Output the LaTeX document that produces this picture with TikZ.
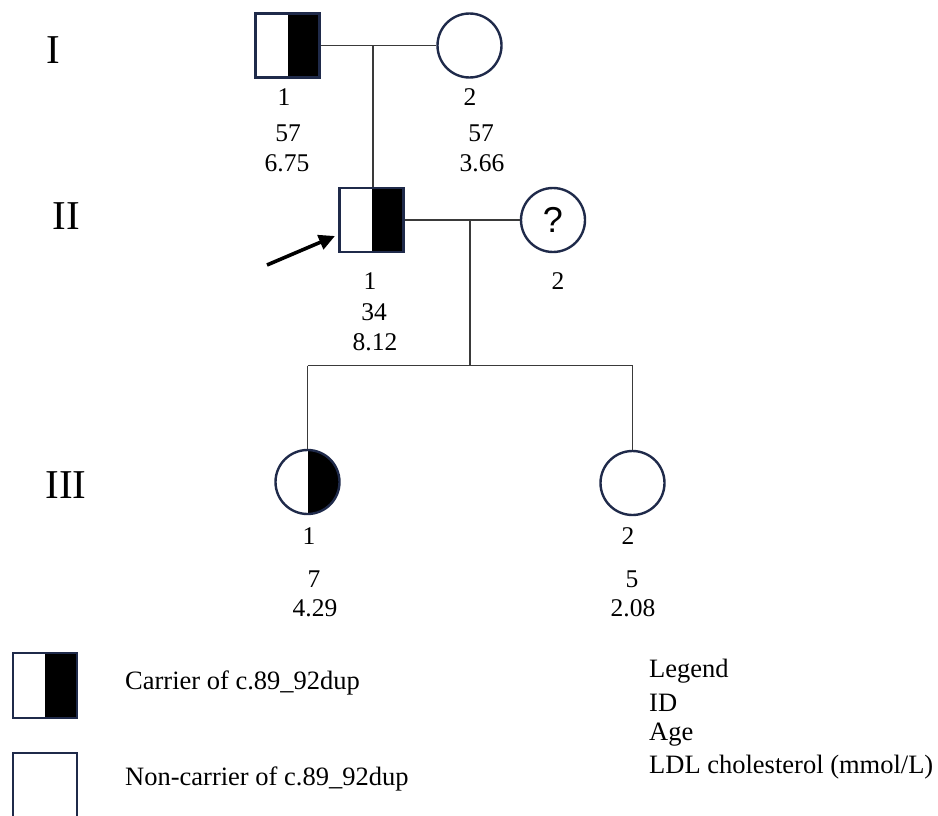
\documentclass[tikz,border=0pt]{standalone}
\usepackage{fontspec}
\setmainfont{Liberation Serif}
\newfontfamily\qfont{Liberation Sans}
\usetikzlibrary{arrows.meta}
\definecolor{pedline}{HTML}{1F2A4A}
\definecolor{linkgray}{HTML}{3A3A3A}
\begin{document}
\begin{tikzpicture}[x=1pt,y=-1pt,
  person/.style={draw=pedline,line width=2.4pt,fill=white,inner sep=0pt},
  male/.style={person,rectangle,minimum width=64pt,minimum height=64pt},
  female/.style={person,circle,minimum size=64pt},
  carrier/.style={path picture={\fill[black] (path picture bounding box.north) rectangle (path picture bounding box.south east);}},
  link/.style={draw=linkgray,line width=1.3pt},
  lab/.style={font=\fontsize{25.5}{30}\selectfont,inner sep=0pt},
  gen/.style={font=\fontsize{41}{46}\selectfont,inner sep=0pt},
  legtext/.style={font=\fontsize{26.5}{31}\selectfont,inner sep=0pt,anchor=west}]
\useasboundingbox (0,0) rectangle (938,816);

% generation numerals
\node[gen] (g1) at (53,50) {I};
\node[gen] (g2) at (66,216) {II};
\node[gen] (g3) at (66,485) {III};

% generation I
\node[male,carrier] (I1) at (287.5,45.5) {};
\node[female] (I2) at (469.5,45.5) {};
\node[lab] (I1id) at (284,97) {1};
\node[lab] (I1age) at (288,133) {57};
\node[lab] (I1ldl) at (287,163) {6.75};
\node[lab] (I2id) at (470,97) {2};
\node[lab] (I2age) at (481,133) {57};
\node[lab] (I2ldl) at (482,163) {3.66};

% generation II
\node[male,carrier] (II1) at (371.5,220) {};
\node[female] (II2) at (553,220) {\qfont\fontsize{36}{40}\selectfont ?};
\node[lab] (II1id) at (370,281) {1};
\node[lab] (II1age) at (374,312) {34};
\node[lab] (II1ldl) at (375,342) {8.12};
\node[lab] (II2id) at (558,281) {2};

% generation III
\node[female,carrier] (III1) at (307.5,482) {};
\node[female] (III2) at (632.5,483) {};
\node[lab] (III1id) at (309,536) {1};
\node[lab] (III1age) at (314,579) {7};
\node[lab] (III1ldl) at (315,608) {4.29};
\node[lab] (III2id) at (628,536) {2};
\node[lab] (III2age) at (632,579) {5};
\node[lab] (III2ldl) at (633,608) {2.08};

% marriages and descent lines
\coordinate (m1) at (373,45.5);
\coordinate (m2) at (470,220);
\coordinate (sib) at (470,365.5);
\draw[link] (I1.east) -- (I2.west);
\draw[link] (m1) -- (m1 |- II1.north);
\draw[link] (II1.east) -- (II2.west);
\draw[link] (m2) -- (sib);
\draw[link] (III1.north |- sib) -- (III2.north |- sib);
\draw[link] (III1.north |- sib) -- (III1.north);
\draw[link] (III2.north |- sib) -- (III2.north);

% proband arrow
\coordinate (arrtail) at (267,265);
\coordinate (arrtip) at (335,236);
\draw[line width=3.6pt,-{Triangle[length=16pt,width=15pt]}] (arrtail) -- (arrtip);

% legend symbols
\node[male,carrier,minimum width=64pt,minimum height=65pt] (keycar) at (45,685.5) {};
\node[male,minimum width=64pt,minimum height=70pt] (keynon) at (45,788) {};
\node[legtext] (keycartxt) at (125,683) {Carrier of c.89\_92dup};
\node[legtext] (keynontxt) at (125,779) {Non-carrier of c.89\_92dup};

% legend for the labels
\node[legtext] (lg1) at (649,671) {Legend};
\node[legtext] (lg2) at (649,703) {ID};
\node[legtext] (lg3) at (649,735) {Age};
\node[legtext] (lg4) at (649,767) {LDL cholesterol (mmol/L)};
\end{tikzpicture}
\end{document}
